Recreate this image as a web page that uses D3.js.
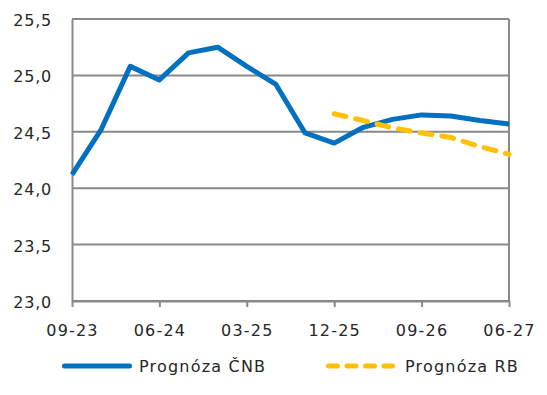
<!DOCTYPE html>
<html>
<head>
<meta charset="utf-8">
<script src="https://cdn.jsdelivr.net/npm/d3@7"></script>
<style>
    body { margin: 0; background: #fff; }
    text { font-family: "DejaVu Sans", sans-serif; fill: #262626; }
</style>
</head>
<body>
<div id="graph1"></div>
<script>
// Quarters (month-year) on the x axis
const quarters = ["09-23", "12-23", "03-24", "06-24", "09-24", "12-24", "03-25", "06-25",
    "09-25", "12-25", "03-26", "06-26", "09-26", "12-26", "03-27", "06-27"];
// Only every third quarter gets a label
const xTickLabels = ["09-23", "06-24", "03-25", "12-25", "09-26", "06-27"];
const yTickValues = [23.0, 23.5, 24.0, 24.5, 25.0, 25.5];

// Prognóza ČNB
const cnbValues = [24.12, 24.52, 25.08, 24.96, 25.20, 25.25, 25.08, 24.92,
    24.49, 24.40, 24.54, 24.61, 24.65, 24.64, 24.60, 24.57];
// Prognóza RB (starts at 12-25)
const rbValues = [null, null, null, null, null, null, null, null, null,
    24.66, 24.60, 24.535, 24.49, 24.45, 24.37, 24.30];

const seriesNames = ["Prognóza ČNB", "Prognóza RB"];

const width = 547, height = 395;
const margin = {top: 19, right: 38, bottom: 94, left: 72};
const gridColor = "#898989";
const fontSize = "16px";

let svg = d3.select("#graph1")
    .append("svg")
    .attr("width", width)
    .attr("height", height);

let x = d3.scalePoint()
    .domain(quarters)
    .range([margin.left, width - margin.right]);

let y = d3.scaleLinear()
    .domain([23, 25.5])
    .range([height - margin.bottom, margin.top]);

// horizontal gridlines
svg.append("g")
    .selectAll("line")
    .data(yTickValues)
    .enter()
    .append("line")
    .attr("x1", margin.left)
    .attr("x2", width - margin.right)
    .attr("y1", d => y(d))
    .attr("y2", d => y(d))
    .attr("stroke", gridColor)
    .attr("stroke-width", 2);

// right border
svg.append("line")
    .attr("x1", width - margin.right)
    .attr("x2", width - margin.right)
    .attr("y1", y(25.5))
    .attr("y2", y(23))
    .attr("stroke", gridColor)
    .attr("stroke-width", 2);

// y axis
let yAxis = svg.append("g")
    .attr("transform", `translate(${margin.left}, 0)`)
    .call(d3.axisLeft(y)
        .tickValues(yTickValues)
        .tickSize(0)
        .tickPadding(20)
        .tickFormat(d => d3.format(".1f")(d).replace(".", ",")));
yAxis.select(".domain").attr("stroke", gridColor).attr("stroke-width", 2);
yAxis.selectAll("text").style("font-size", fontSize).style("letter-spacing", "0.8px").attr("dy", "0.4em");

// x axis
let xAxis = svg.append("g")
    .attr("transform", `translate(0, ${y(23)})`)
    .call(d3.axisBottom(x)
        .tickValues(xTickLabels)
        .tickSize(6)
        .tickPadding(18)
        .tickSizeOuter(0));
xAxis.select(".domain").attr("stroke", gridColor).attr("stroke-width", 2);
xAxis.selectAll(".tick line").attr("stroke", gridColor).attr("stroke-width", 2);
xAxis.selectAll("text").style("font-size", fontSize).style("letter-spacing", "1.2px");

// lines
let line = d3.line()
    .defined(d => d.v !== null)
    .x(d => x(d.q))
    .y(d => y(d.v));

const cnbData = quarters.map((q, i) => ({q: q, v: cnbValues[i]}));
const rbData = quarters.map((q, i) => ({q: q, v: rbValues[i]}));

svg.append("path")
    .datum(cnbData)
    .attr("d", line)
    .attr("fill", "none")
    .attr("stroke", "#0070C0")
    .attr("stroke-width", 5)
    .attr("stroke-linejoin", "round");

svg.append("path")
    .datum(rbData)
    .attr("d", line)
    .attr("fill", "none")
    .attr("stroke", "#FFC000")
    .attr("stroke-width", 5)
    .attr("stroke-linecap", "round")
    .attr("stroke-dasharray", "12,10");

// legend
const legendY = 366;
let legend = svg.append("g");

legend.append("line")
    .attr("x1", 64.5).attr("x2", 129.5)
    .attr("y1", legendY).attr("y2", legendY)
    .attr("stroke", "#0070C0")
    .attr("stroke-width", 5)
    .attr("stroke-linecap", "round");
legend.append("text")
    .attr("x", 139).attr("y", legendY)
    .attr("dy", "0.36em")
    .style("font-size", fontSize)
    .style("letter-spacing", "1.2px")
    .text(seriesNames[0]);

legend.append("line")
    .attr("x1", 328.5).attr("x2", 392.5)
    .attr("y1", legendY).attr("y2", legendY)
    .attr("stroke", "#FFC000")
    .attr("stroke-width", 5)
    .attr("stroke-linecap", "round")
    .attr("stroke-dasharray", "9,9.5");
legend.append("text")
    .attr("x", 405).attr("y", legendY)
    .attr("dy", "0.36em")
    .style("font-size", fontSize)
    .style("letter-spacing", "1.2px")
    .text(seriesNames[1]);
</script>
</body>
</html>
